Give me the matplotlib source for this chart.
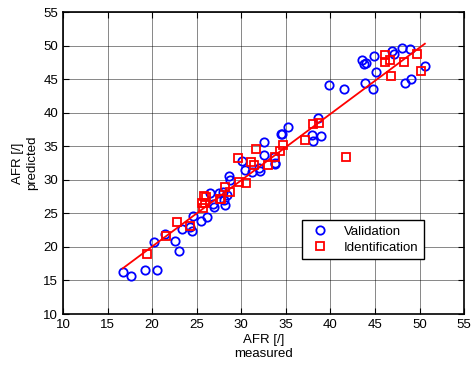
import matplotlib
matplotlib.use('Agg')
import matplotlib.pyplot as plt
import numpy as np

plt.rcParams['font.family'] = ['Liberation Sans', 'DejaVu Sans']

# validation data (measured, predicted)
val_meas = [16.7, 17.6, 19.2, 20.5, 20.2, 21.4, 22.6, 23.0, 23.3, 24.3, 24.5, 24.6,
            25.5, 26.2, 26.5, 26.8, 27.5, 28.1, 28.2, 26.9, 28.0, 28.4, 28.6, 28.7,
            30.1, 30.4, 31.2, 32.1, 32.6, 33.7, 33.8, 32.5, 34.5, 35.2, 34.6,
            38.1, 37.9, 39.0, 38.6, 39.9, 41.5, 43.9, 44.8, 45.1, 43.6, 44.0, 43.8,
            44.9, 46.9, 47.1, 48.0, 48.9, 50.6, 48.4, 49.0, 33.8, 32.0]
val_pred = [16.3, 15.7, 16.6, 16.5, 20.7, 22.0, 20.9, 19.4, 22.6, 23.0, 22.4, 24.6,
            23.9, 24.5, 28.1, 26.4, 28.0, 27.0, 26.2, 26.0, 28.2, 27.8, 30.6, 30.0,
            32.8, 31.5, 31.2, 31.3, 33.7, 33.4, 32.5, 35.7, 36.8, 37.9, 36.9,
            35.8, 36.7, 36.5, 39.2, 44.1, 43.5, 44.5, 43.5, 46.1, 47.9, 47.4, 47.2,
            48.5, 49.2, 48.8, 49.7, 49.5, 47.0, 44.4, 45.0, 32.3, 31.8]

# identification data (measured, predicted)
id_meas = [19.4, 21.6, 22.8, 24.2, 25.7, 25.9, 26.0, 27.6, 25.8, 25.6, 28.2, 27.7,
           28.7, 29.7, 30.5, 29.6, 31.1, 31.4, 31.7, 33.0, 33.8, 34.4, 34.7,
           38.1, 38.7, 37.1, 41.8, 46.1, 46.1, 46.7, 46.8, 48.3, 49.7, 50.2]
id_pred = [18.9, 21.6, 23.7, 23.1, 25.8, 26.5, 27.4, 27.2, 27.6, 26.5, 29.0, 27.1,
           28.2, 29.7, 29.5, 33.3, 32.6, 32.2, 34.6, 32.2, 33.4, 34.3, 35.2,
           38.4, 38.5, 36.0, 33.4, 48.6, 47.5, 47.9, 45.5, 47.5, 48.8, 46.3]

# linear fit line
fit_x = [16.7, 50.6]
fit_slope = 0.988
fit_icpt = 0.3

xticks = np.arange(10, 56, 5)
yticks = np.arange(10, 56, 5)

fig = plt.figure(figsize=(4.75, 3.68), dpi=100)
ax = fig.add_axes([0.1326, 0.1467, 0.8444, 0.8203])

ax.grid(True, color='black', linewidth=0.6, alpha=0.55)
ax.set_axisbelow(True)

ax.plot(val_meas, val_pred, 'o', color='blue', markerfacecolor='none',
        markersize=6, markeredgewidth=1.3, label='Validation', zorder=3)
ax.plot(id_meas, id_pred, 's', color='red', markerfacecolor='none',
        markersize=6, markeredgewidth=1.3, label='Identification', zorder=3)
fx = np.array(fit_x)
ax.plot(fx, fit_slope * fx + fit_icpt, '-', color='red', linewidth=1.3, zorder=4)

ax.set_xlim(10, 55)
ax.set_ylim(10, 55)
ax.set_xticks(xticks)
ax.set_yticks(yticks)
ax.tick_params(direction='in', labelsize=9.5, length=4, top=True, right=True)
for s in ax.spines.values():
    s.set_linewidth(1.2)

ax.set_xlabel('AFR [/]\nmeasured', fontsize=9.5, labelpad=2, linespacing=1.25)
ax.set_ylabel('AFR [/]\npredicted', fontsize=9.5, labelpad=4, linespacing=1.2)

leg = ax.legend(loc='lower left', bbox_to_anchor=(0.595, 0.182), fontsize=9.5,
                fancybox=False, framealpha=1, edgecolor='black',
                borderpad=0.4, handletextpad=0.8, labelspacing=0.3, borderaxespad=0)
leg.get_frame().set_linewidth(1.0)

fig.savefig('out.png', dpi=100)
